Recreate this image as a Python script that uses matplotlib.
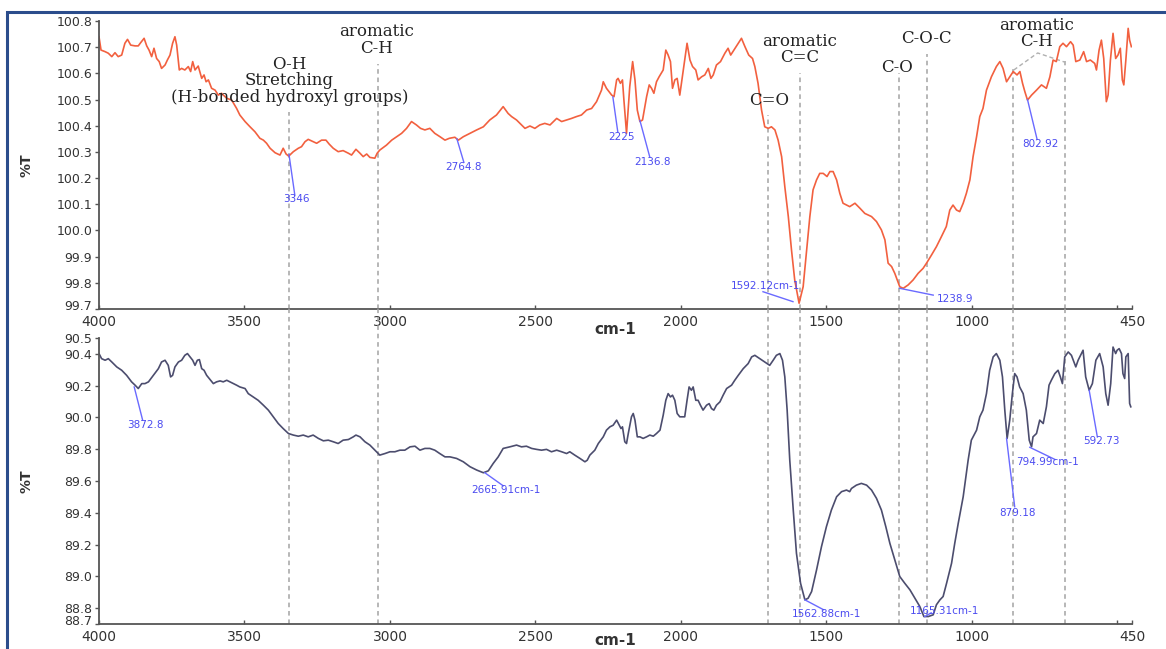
"""FTIR spectra: two stacked %T panels with band assignments."""

import matplotlib

matplotlib.use("Agg")

import matplotlib.pyplot as plt
from matplotlib.patches import Rectangle
from matplotlib.transforms import ScaledTranslation

# upper spectrum (wavenumber cm-1, %T)
TOP_WN = [
    4000, 3993, 3979, 3968, 3956, 3945, 3934, 3922, 3911, 3902, 3891, 3876, 3865, 3857,
    3845, 3836, 3828, 3819, 3811, 3802, 3793, 3785, 3773, 3765, 3756, 3747, 3739, 3733,
    3724, 3716, 3705, 3693, 3685, 3678, 3670, 3659, 3647, 3639, 3632, 3624, 3613, 3601,
    3590, 3579, 3561, 3544, 3527, 3516, 3498, 3481, 3464, 3447, 3435, 3424, 3412, 3395,
    3378, 3367, 3357, 3348, 3332, 3315, 3304, 3292, 3281, 3264, 3252, 3235, 3220, 3209,
    3195, 3178, 3161, 3143, 3132, 3117, 3103, 3092, 3080, 3069, 3052, 3044, 3035, 3012,
    2994, 2977, 2960, 2943, 2926, 2909, 2895, 2880, 2863, 2846, 2828, 2811, 2796,
    2777, 2765, 2748, 2725, 2702, 2679, 2657, 2634, 2611, 2594, 2582, 2565, 2548, 2536,
    2519, 2502, 2485, 2468, 2450, 2427, 2410, 2393, 2376, 2359, 2342, 2324, 2307, 2290,
    2273, 2267, 2256, 2238, 2230, 2221, 2216, 2208, 2201, 2196, 2187, 2176, 2166, 2158,
    2150, 2141, 2132, 2118, 2109, 2101, 2093, 2084, 2075, 2061, 2052, 2044, 2036, 2029,
    2021, 2013, 2004, 1992, 1979, 1969, 1960, 1949, 1941, 1929, 1918, 1906, 1897, 1889,
    1878, 1864, 1849, 1838, 1829, 1818, 1803, 1792, 1780, 1767, 1754, 1746, 1735, 1723,
    1712, 1700, 1689, 1677, 1666, 1654, 1643, 1631, 1620, 1609, 1594, 1580, 1569, 1557,
    1546, 1534, 1523, 1511, 1498, 1488, 1477, 1465, 1454, 1443, 1420,
    1402, 1385, 1368, 1345, 1328, 1311, 1299, 1288, 1276, 1265, 1248, 1236, 1219, 1202,
    1185, 1168, 1156, 1139, 1122, 1105, 1088, 1076, 1065, 1053, 1042, 1030, 1019, 1007,
    996, 984, 973, 962, 950, 933, 916, 904, 893, 881, 870, 858, 845, 835, 826, 818, 809,
    795, 778, 761, 744, 732, 721, 710, 698, 687, 675, 661, 652, 643, 629, 616, 606, 593,
    578, 572, 563, 555, 547, 538, 532, 524, 515, 506, 498, 490, 483, 478, 471, 463, 458, 452,
]
TOP_T = [
    100.740, 100.689, 100.683, 100.677, 100.664, 100.679, 100.664, 100.670, 100.715, 100.730,
    100.708, 100.705, 100.705, 100.717, 100.734, 100.705, 100.689, 100.664, 100.696, 100.657,
    100.645, 100.619, 100.632, 100.651, 100.670, 100.715, 100.740, 100.708, 100.613, 100.619,
    100.613, 100.626, 100.607, 100.645, 100.613, 100.628, 100.581, 100.594, 100.568, 100.575,
    100.543, 100.536, 100.517, 100.524, 100.505, 100.498, 100.466, 100.441, 100.416, 100.396,
    100.377, 100.352, 100.345, 100.333, 100.314, 100.297, 100.288, 100.314, 100.292, 100.284,
    100.301, 100.314, 100.320, 100.339, 100.348, 100.339, 100.333, 100.345, 100.345, 100.330,
    100.314, 100.301, 100.305, 100.295, 100.288, 100.310, 100.295, 100.282, 100.292, 100.279,
    100.276, 100.295, 100.307, 100.326, 100.345, 100.358, 100.371, 100.390, 100.416, 100.403,
    100.390, 100.384, 100.390, 100.371, 100.358, 100.345, 100.352,
    100.356, 100.345, 100.358, 100.371, 100.384, 100.396, 100.422, 100.441, 100.473, 100.447,
    100.435, 100.422, 100.403, 100.390, 100.399, 100.390, 100.403, 100.409, 100.403, 100.428,
    100.416, 100.422, 100.428, 100.435, 100.441, 100.460, 100.466, 100.492, 100.536, 100.568,
    100.543, 100.517, 100.511, 100.575, 100.581, 100.562, 100.575, 100.498, 100.371, 100.549,
    100.645, 100.575, 100.460, 100.416, 100.422, 100.511, 100.556, 100.543, 100.524, 100.568,
    100.587, 100.613, 100.689, 100.670, 100.645, 100.543, 100.575, 100.581, 100.517, 100.613,
    100.715, 100.651, 100.626, 100.613, 100.575, 100.587, 100.594, 100.619, 100.581, 100.594,
    100.632, 100.645, 100.677, 100.696, 100.670, 100.689, 100.715, 100.734, 100.702, 100.670,
    100.657, 100.626, 100.562, 100.460, 100.396, 100.390, 100.396, 100.384, 100.345, 100.282,
    100.167, 100.053, 99.925, 99.811, 99.722, 99.785, 99.913, 100.053, 100.155, 100.193,
    100.218, 100.218, 100.206, 100.225, 100.225, 100.193, 100.142, 100.104, 100.091,
    100.104, 100.085, 100.065, 100.053, 100.034, 100.002, 99.964, 99.875, 99.862, 99.836,
    99.785, 99.779, 99.792, 99.811, 99.836, 99.855, 99.875, 99.906, 99.938, 99.976,
    100.015, 100.078, 100.097, 100.078, 100.072, 100.104, 100.142, 100.193, 100.282, 100.358,
    100.435, 100.466, 100.536, 100.587, 100.626, 100.645, 100.619, 100.568, 100.587, 100.607,
    100.594, 100.607, 100.562, 100.530, 100.498, 100.517, 100.536, 100.556, 100.543, 100.587,
    100.651, 100.645, 100.702, 100.715, 100.702, 100.721, 100.708, 100.645, 100.651, 100.683,
    100.645, 100.651, 100.638, 100.613, 100.689, 100.727, 100.657, 100.492, 100.517, 100.651,
    100.753, 100.657, 100.670, 100.696, 100.575, 100.556, 100.651, 100.772, 100.727, 100.702,
]

# lower spectrum (wavenumber cm-1, %T)
BOT_WN = [
    4000, 3991, 3979, 3968, 3956, 3939, 3922, 3905, 3888, 3876, 3865, 3853, 3842, 3830,
    3813, 3796, 3785, 3773, 3762, 3754, 3747, 3739, 3727, 3716, 3705, 3696, 3687, 3678,
    3670, 3662, 3655, 3647, 3639, 3630, 3616, 3607, 3596, 3584, 3573, 3561, 3550, 3538,
    3527, 3516, 3498, 3487, 3470, 3453, 3435, 3418, 3401, 3384, 3367, 3349, 3332, 3315,
    3298, 3281, 3264, 3246, 3229, 3212, 3195, 3178, 3161, 3143, 3126, 3117, 3103, 3086,
    3069, 3052, 3035, 3017, 3000, 2983, 2966, 2949, 2931, 2914, 2897, 2880, 2863, 2846,
    2829, 2811, 2794,
    2771, 2748, 2725, 2702, 2679, 2662, 2645, 2628, 2611, 2588, 2565, 2548, 2531, 2513,
    2496, 2479, 2462, 2445, 2427, 2410, 2393, 2382, 2365, 2347, 2330, 2322, 2313, 2296,
    2284, 2267, 2256, 2244, 2233, 2221, 2212, 2206, 2201, 2193, 2187, 2181, 2170, 2164,
    2158, 2150, 2141, 2130, 2118, 2107, 2095, 2084, 2072, 2061, 2052, 2044, 2036, 2029,
    2021, 2013, 2004, 1987, 1979, 1972, 1964, 1958, 1949, 1941, 1933, 1924, 1912, 1903,
    1895, 1887, 1878, 1866, 1855, 1843, 1826, 1815, 1803, 1786, 1769, 1757, 1746, 1729,
    1712, 1695, 1683, 1672, 1660, 1651, 1643, 1635, 1626, 1614, 1603, 1589, 1574, 1563,
    1551, 1534, 1517, 1500, 1483, 1465, 1448, 1431, 1420,
    1414, 1397, 1380, 1362, 1345, 1328, 1311, 1296, 1282, 1265, 1248, 1231, 1213, 1196,
    1179, 1165, 1150, 1133, 1122, 1110, 1099, 1087, 1070, 1059, 1047, 1030, 1013, 1002,
    984, 973, 962, 950, 939, 927, 916, 904, 895, 887, 879, 870, 861, 853, 845, 836, 824,
    813, 803, 795, 790, 778, 767, 755, 744, 735, 727, 715, 704, 696, 689, 681, 669, 658,
    643, 635, 618, 609, 597, 586, 574, 561, 549, 540, 532, 523, 515, 506, 501, 494, 486,
    481, 475, 471, 463, 458, 454,
]
BOT_T = [
    90.402, 90.370, 90.360, 90.370, 90.349, 90.318, 90.297, 90.265, 90.224, 90.203,
    90.182, 90.213, 90.213, 90.224, 90.265, 90.307, 90.349, 90.360, 90.328, 90.255,
    90.265, 90.318, 90.349, 90.360, 90.391, 90.402, 90.381, 90.360, 90.328, 90.360,
    90.364, 90.307, 90.297, 90.265, 90.234, 90.213, 90.224, 90.230, 90.224, 90.234,
    90.224, 90.213, 90.203, 90.192, 90.182, 90.150, 90.129, 90.108, 90.077, 90.046,
    90.004, 89.962, 89.930, 89.899, 89.889, 89.882, 89.889, 89.878, 89.889, 89.868,
    89.853, 89.857, 89.847, 89.836, 89.857, 89.861, 89.878, 89.889, 89.878, 89.847,
    89.826, 89.794, 89.763, 89.773, 89.784, 89.784, 89.794, 89.794, 89.815, 89.819,
    89.794, 89.805, 89.805, 89.794, 89.773, 89.752, 89.752,
    89.742, 89.721, 89.690, 89.669, 89.652, 89.664, 89.711, 89.752, 89.805, 89.815,
    89.826, 89.815, 89.819, 89.805, 89.799, 89.794, 89.799, 89.784, 89.794, 89.784,
    89.773, 89.784, 89.763, 89.742, 89.721, 89.731, 89.763, 89.794, 89.836, 89.878,
    89.920, 89.941, 89.951, 89.983, 89.951, 89.930, 89.941, 89.847, 89.836, 89.899,
    90.004, 90.025, 89.983, 89.878, 89.878, 89.868, 89.878, 89.889, 89.882, 89.899,
    89.920, 90.014, 90.108, 90.150, 90.129, 90.140, 90.108, 90.025, 90.004, 90.004,
    90.108, 90.192, 90.171, 90.192, 90.108, 90.108, 90.077, 90.046, 90.077, 90.087,
    90.056, 90.046, 90.077, 90.098, 90.140, 90.182, 90.203, 90.234, 90.265, 90.307,
    90.339, 90.381, 90.391, 90.370, 90.349, 90.328, 90.360, 90.391, 90.402, 90.360,
    90.255, 90.046, 89.731, 89.417, 89.145, 88.957, 88.852, 88.862, 88.904, 89.040,
    89.187, 89.313, 89.417, 89.501, 89.533, 89.543, 89.533,
    89.553, 89.574, 89.585, 89.574, 89.543, 89.491, 89.417, 89.313, 89.208, 89.103,
    88.999, 88.957, 88.915, 88.862, 88.810, 88.747, 88.747, 88.758, 88.821, 88.852,
    88.873, 88.957, 89.082, 89.208, 89.334, 89.501, 89.731, 89.857, 89.920, 90.004,
    90.046, 90.150, 90.297, 90.381, 90.402, 90.360, 90.255, 90.046, 89.868, 89.983,
    90.150, 90.276, 90.255, 90.192, 90.150, 90.046, 89.857, 89.815, 89.878, 89.899,
    89.983, 89.962, 90.067, 90.203, 90.234, 90.276, 90.297, 90.255, 90.213, 90.381,
    90.412, 90.391, 90.318, 90.360, 90.423, 90.255, 90.171, 90.213, 90.360, 90.402,
    90.318, 90.150, 90.077, 90.213, 90.443, 90.402, 90.423, 90.433, 90.402, 90.276,
    90.245, 90.381, 90.402, 90.088, 90.067,
]

# peak labels: text, peak point, leader end, text position
TOP_PEAKS = [
    ("3346", (3347, 100.29), (3327, 100.135), (3320, 100.12)),
    ("2764.8", (2770, 100.35), (2746, 100.26), (2746, 100.243)),
    ("2225", (2234, 100.51), (2217, 100.376), (2206, 100.357)),
    ("2136.8", (2141, 100.42), (2107, 100.28), (2098, 100.26)),
    ("1592.12cm-1", (1615, 99.728), (1718, 99.766), (1711, 99.789)),
    ("1238.9", (1248, 99.779), (1133, 99.753), (1059, 99.738)),
    ("802.92", (809, 100.50), (776, 100.348), (764, 100.33)),
]
BOT_PEAKS = [
    ("3872.8", (3879, 90.192), (3850, 89.983), (3841, 89.952)),
    ("2665.91cm-1", (2674, 89.652), (2611, 89.570), (2603, 89.543)),
    ("1562.88cm-1", (1574, 88.852), (1510, 88.79), (1499, 88.764)),
    ("1165.31cm-1", (1162, 88.747), (1140, 88.77), (1093, 88.779)),
    ("879.18", (881, 89.868), (853, 89.438), (845, 89.397)),
    ("794.99cm-1", (801, 89.812), (715, 89.736), (742, 89.721)),
    ("592.73", (597, 90.171), (569, 89.878), (555, 89.853)),
]

# band assignments: dashed guide lines (wavenumber, top fraction in upper panel)
GUIDES = [(3346, 0.685), (3040, 0.85), (1700, 0.675), (1592, 0.82),
          (1250, 0.82), (1155, 0.885), (858, 0.84), (680, 0.86)]
BANDS = [
    ("aromatic\nC-H", 3045, 100.728),
    ("O-H\nStretching\n(H-bonded hydroxyl groups)", 3345, 100.572),
    ("aromatic\nC=C", 1591, 100.69),
    ("C=O", 1698, 100.498),
    ("C-O", 1258, 100.624),
    ("C-O-C", 1155, 100.733),
    ("aromatic\nC-H", 777, 100.752),
]
BRACKET_WN = [856, 774, 681]
BRACKET_T = [100.613, 100.678, 100.643]

TOP_YTICKS = [100.8, 100.7, 100.6, 100.5, 100.4, 100.3, 100.2, 100.1, 100.0, 99.9, 99.8, 99.7]
BOT_YTICKS = [90.5, 90.4, 90.2, 90.0, 89.8, 89.6, 89.4, 89.2, 89.0, 88.8, 88.7]
XTICKS = [4000, 3500, 3000, 2500, 2000, 1500, 1000, 500, 450]
XTICK_LABELS = ["4000", "3500", "3000", "2500", "2000", "1500", "1000", "", "450"]

BLUE = "#4b4bf0"
GUIDE_GREY = "#a3a3a3"


def style_axes(fig, ax, yticks, ylim, xlabel_y):
    ax.set_xlim(4000, 450)
    ax.set_ylim(*ylim)
    for side in ("top", "right"):
        ax.spines[side].set_visible(False)
    for side in ("left", "bottom"):
        ax.spines[side].set_color("#555555")
        ax.spines[side].set_linewidth(1.3)
    ax.set_yticks(yticks)
    ax.set_yticklabels([f"{v:.1f}" for v in yticks])
    ax.set_xticks(XTICKS)
    ax.set_xticklabels(XTICK_LABELS)
    ax.tick_params(axis="y", direction="out", length=3, width=1, color="#555555",
                   labelsize=9, labelcolor="#333333", pad=2)
    ax.tick_params(axis="x", direction="in", length=3, width=1, color="#555555",
                   labelsize=10, labelcolor="#333333", pad=4)
    # lowest y label sits a touch higher so it clears the 4000 label
    low = ax.get_yticklabels()[-1]
    low.set_transform(low.get_transform() + ScaledTranslation(0, 3 / 72, fig.dpi_scale_trans))
    ax.set_xlabel("cm-1", fontsize=11, fontweight="bold", color="#333333", va="top")
    ax.xaxis.set_label_coords(0.5, xlabel_y)
    ax.set_ylabel("%T", fontsize=10, fontweight="bold", color="#333333", va="center")
    ax.yaxis.set_label_coords(-0.07, 0.5)


def draw_peaks(ax, peaks):
    for label, (x0, y0), (x1, y1), (tx, ty) in peaks:
        ax.plot([x0, x1], [y0, y1], color="#6a6aff", lw=1.0, zorder=3)
        ax.text(tx, ty, label, color=BLUE, fontsize=7.5, ha="center", va="center", zorder=4)


fig = plt.figure(figsize=(11.66, 6.49), dpi=100)
ax_top = fig.add_axes([0.0849, 0.5239, 0.8859, 0.4437])
ax_bot = fig.add_axes([0.0849, 0.0385, 0.8859, 0.4407])

style_axes(fig, ax_top, TOP_YTICKS, (99.7, 100.8), -0.045)
style_axes(fig, ax_bot, BOT_YTICKS, (88.7, 90.5), -0.033)

for wn, frac in GUIDES:
    ax_top.axvline(wn, ymin=0, ymax=frac, color=GUIDE_GREY, lw=1.1, ls=(0, (3, 2.5)), zorder=1)
    ax_bot.axvline(wn, ymin=0, ymax=1.105, color=GUIDE_GREY, lw=1.1, ls=(0, (3, 2.5)),
                   zorder=1, clip_on=False)

ax_top.plot(TOP_WN, TOP_T, color="#f2603f", lw=1.2, zorder=2)
ax_bot.plot(BOT_WN, BOT_T, color="#4c4d6e", lw=1.2, zorder=2)

ax_top.plot(BRACKET_WN, BRACKET_T, color="#b0b0b0", lw=1.0, ls=(0, (3, 2)), zorder=1)

for text, x, y in BANDS:
    ax_top.text(x, y, text, family="DejaVu Serif", fontsize=12, ha="center", va="center",
                linespacing=0.95, color="#222222", zorder=5)

draw_peaks(ax_top, TOP_PEAKS)
draw_peaks(ax_bot, BOT_PEAKS)

# blue frame round the picture (only top and left edges visible)
fig.add_artist(Rectangle((0.006, -0.1), 1.1, 1.0815, transform=fig.transFigure,
                         fill=False, edgecolor="#2b4d8c", lw=2.2))

fig.savefig("out.png", dpi=100)
